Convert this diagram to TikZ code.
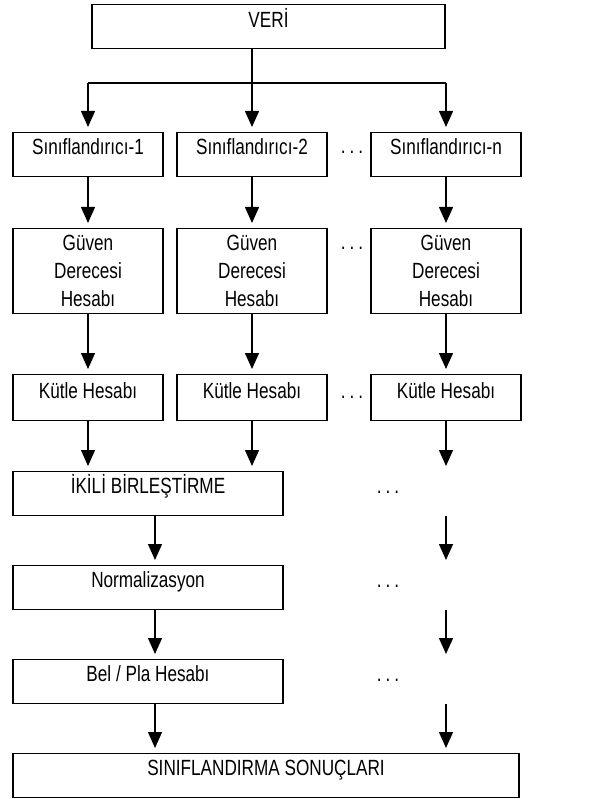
\documentclass[tikz,border=0pt]{standalone}
\usepackage{fontspec}
\setmainfont[FakeStretch=0.78]{Liberation Sans}
\usetikzlibrary{arrows.meta}

\newcommand{\trespontos}{.\hspace{4pt}.\hspace{4pt}.}

\begin{document}
\begin{tikzpicture}[x=1pt, y=-1pt,
        caixa/.style={draw, line width=1.4pt, fill=white, inner sep=0pt, anchor=north,
            font=\fontsize{22}{28}\selectfont},
        umalinha/.style={text height=22pt, text depth=22pt},
        pontos/.style={inner sep=0pt, anchor=base, font=\fontsize{22}{28}\selectfont},
        linha/.style={line width=1.4pt},
        seta/.style={line width=1.4pt, -{Triangle[width=14pt,length=16pt]}, shorten >=5pt}]
    \useasboundingbox (0,0) rectangle (604,799);
    % caixa de entrada
    \node[caixa, umalinha, minimum width=353pt, text height=23pt, text depth=21pt] (veri) at (268.5,4) {VERİ};
    % tres colunas de classificadores
    \foreach \i/\x in {1/88, 2/252, n/446}{
        \node[caixa, umalinha, minimum width=150pt] (S\i) at (\x,132) {Sınıflandırıcı-\i};
        \node[caixa, minimum width=150pt, minimum height=85pt, align=center] (G\i) at (\x,228) {Güven\\Derecesi\\Hesabı};
        \node[caixa, umalinha, minimum width=150pt, text height=24pt] (K\i) at (\x,374) {Kütle Hesabı};
        \draw[seta] (S\i) -- (G\i);
        \draw[seta] (G\i) -- (K\i);
    }
    % ramificar a partir da entrada
    \coordinate (ramo) at (252,83);
    \draw[linha] (S1 |- ramo) -- (Sn |- ramo);
    \draw[seta] (veri.south -| S2) -- (S2);
    \draw[seta] (S1 |- ramo) -- (S1);
    \draw[seta] (Sn |- ramo) -- (Sn);
    % pontos entre as colunas
    \foreach \y [count=\k] in {154, 250, 398}{
        \node[pontos] (p\k) at (352,\y) {\trespontos};
    }
    % etapas de combinacao
    \node[caixa, umalinha, minimum width=270pt] (ikili) at (148,471) {İKİLİ BİRLEŞTİRME};
    \node[caixa, umalinha, minimum width=270pt] (norm) at (148,565) {Normalizasyon};
    \node[caixa, umalinha, minimum width=270pt] (belpla) at (148,659) {Bel / Pla Hesabı};
    \node[caixa, umalinha, minimum width=506pt] (sonuc) at (266,753) {SINIFLANDIRMA SONUÇLARI};
    \draw[seta] (K1) -- (K1 |- ikili.north);
    \draw[seta] (K2) -- (K2 |- ikili.north);
    \draw[seta] (Kn) -- (Kn |- ikili.north);
    % eixo da coluna da esquerda
    \coordinate (eixo) at (155,0);
    \draw[seta] (ikili.south -| eixo) -- (norm.north -| eixo);
    \draw[seta] (norm.south -| eixo) -- (belpla.north -| eixo);
    \draw[seta] (belpla.south -| eixo) -- (sonuc.north -| eixo);
    % coluna n sem caixas
    \draw[seta] (Kn |- ikili.south) -- (Kn |- norm.north);
    \draw[seta] (Kn |- norm.south) -- (Kn |- belpla.north);
    \draw[seta] (Kn |- belpla.south) -- (Kn |- sonuc.north);
    \coordinate (meio) at (388,0);
    \node[pontos] (q1) at (ikili.base -| meio) {\trespontos};
    \node[pontos] (q2) at (norm.base -| meio) {\trespontos};
    \node[pontos] (q3) at (belpla.base -| meio) {\trespontos};
\end{tikzpicture}
\end{document}
